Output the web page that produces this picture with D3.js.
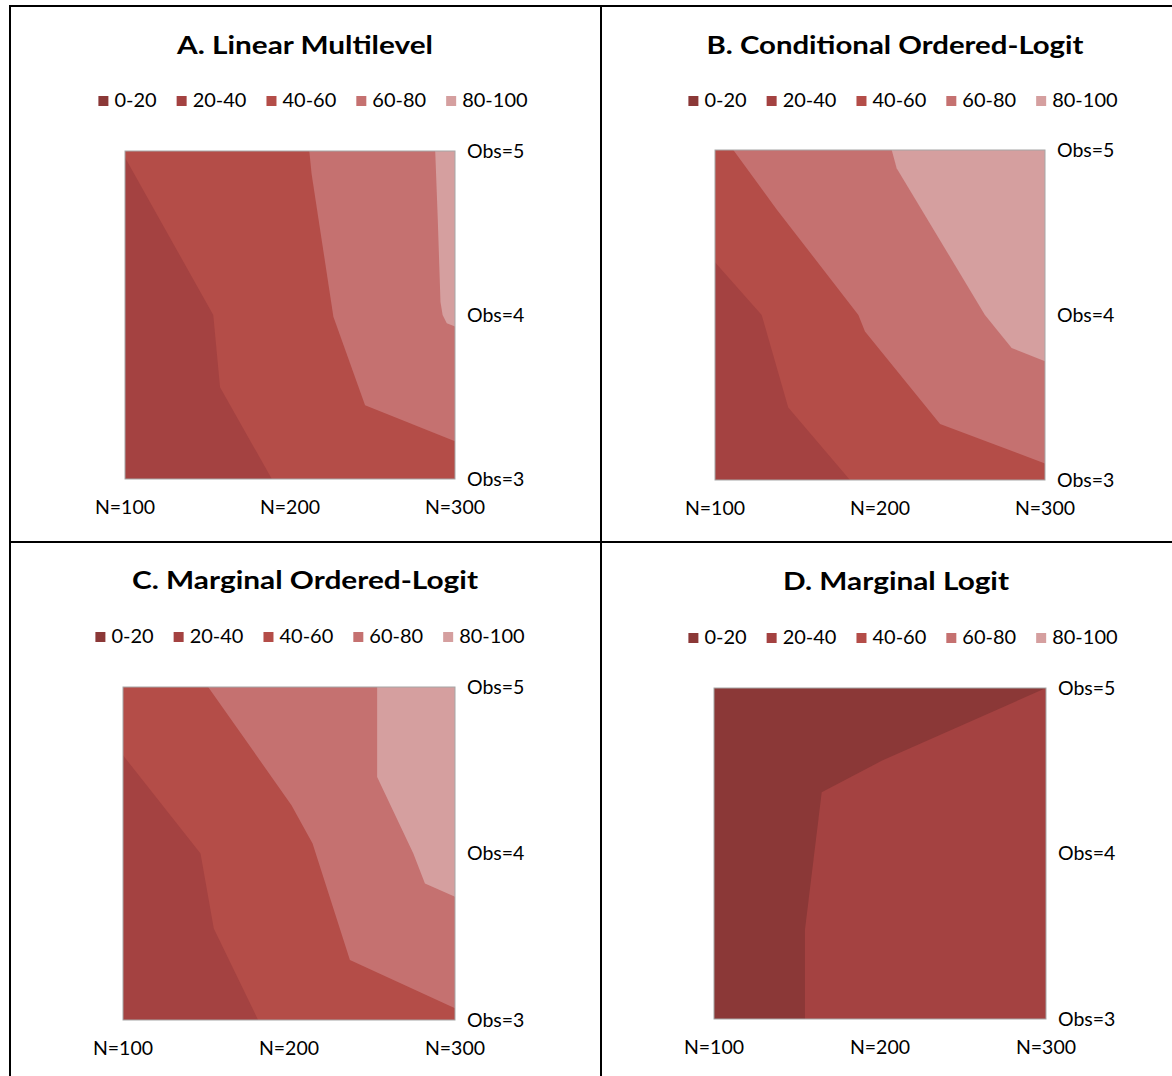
<!DOCTYPE html>
<html>
<head>
<meta charset="utf-8">
<script src="https://cdnjs.cloudflare.com/ajax/libs/d3/7.8.5/d3.min.js"></script>
<style>
  html, body { margin: 0; padding: 0; background: #fff; }
  svg { display: block; font-family: Lato, "Open Sans", sans-serif; }
</style>
</head>
<body>
<svg id="chart" width="1172" height="1076"></svg>
<script>
// Contour bands (percent) and their fills
const bands = ["0-20", "20-40", "40-60", "60-80", "80-100"];
const bandColors = ["#8b3837", "#a44241", "#b44d48", "#c57170", "#d59f9f"];

// Axis ticks
const nTicks = [100, 200, 300];
const nLabels = ["N=100", "N=200", "N=300"];
const obsTicks = [3, 4, 5];
const obsLabels = ["Obs=3", "Obs=4", "Obs=5"];

const titles = ["A. Linear Multilevel", "B. Conditional Ordered-Logit",
                "C. Marginal Ordered-Logit", "D. Marginal Logit"];

// Lowest band filling each panel
const baseBands = [1, 1, 1, 0];

// Band boundaries as [N, Obs] vertices; the band named by "above" lies to the
// right of the direction of travel.
const linearMultilevel = [
  { above: 2, line: [[189, 3], [157.6, 3.56], [153.5, 4.0], [100, 4.96]] },
  { above: 3, line: [[300, 3.23], [245.5, 3.45], [226.3, 3.99], [213.1, 4.86], [211.7, 5]] },
  { above: 4, line: [[300, 3.93], [295, 3.95], [292.5, 4.0], [291.2, 4.08], [289.5, 4.6], [288, 5]] }
];
const conditionalOrderedLogit = [
  { above: 2, line: [[181.8, 3], [144.4, 3.44], [128.3, 4.0], [100, 4.32]] },
  { above: 3, line: [[300, 3.10], [236.4, 3.34], [190.9, 3.90], [186.9, 4.0], [137.4, 4.64], [111.1, 5]] },
  { above: 4, line: [[300, 3.72], [279.8, 3.80], [263.6, 4.0], [210.1, 4.89], [207.1, 5]] }
];
const marginalOrderedLogit = [
  { above: 2, line: [[181.4, 3], [154.7, 3.55], [146.7, 4.0], [100, 4.59]] },
  { above: 3, line: [[300, 3.07], [236.7, 3.36], [214.2, 4.06], [201.5, 4.29], [151.3, 5]] },
  { above: 4, line: [[300, 3.74], [281.9, 3.82], [274.9, 4.0], [253.1, 4.46], [253.1, 5]] }
];
const marginalLogit = [
  { above: 1, line: [[154.8, 3], [154.8, 3.54], [164.9, 4.37], [201, 4.56], [300, 5]] }
];
const panelBoundaries = [linearMultilevel, conditionalOrderedLogit, marginalOrderedLogit, marginalLogit];

// Panel geometry
const layout = [
  { plot: { x0: 125, x1: 455, y0: 151, y1: 479 },  titleX: 305, titleY: 48,  titleW: 256, legendY: 101, legendCx: 313 },
  { plot: { x0: 715, x1: 1045, y0: 150, y1: 480 }, titleX: 895, titleY: 48,  titleW: 377, legendY: 101, legendCx: 903 },
  { plot: { x0: 123, x1: 455, y0: 687, y1: 1020 }, titleX: 305, titleY: 583, titleW: 346, legendY: 637, legendCx: 310 },
  { plot: { x0: 714, x1: 1046, y0: 688, y1: 1019 },titleX: 896, titleY: 584, titleW: 226, legendY: 638, legendCx: 903 }
];

const svg = d3.select("#chart");

const nExtent = d3.extent(nTicks), obsExtent = d3.extent(obsTicks);
const [nMin, nMax] = nExtent, [oMin, oMax] = obsExtent;

// Position of an edge point along the plot perimeter, clockwise from top-left
function perimeterT([n, o]) {
  const eps = 1e-6;
  if (Math.abs(o - oMax) < eps) return (n - nMin) / (nMax - nMin);
  if (Math.abs(n - nMax) < eps) return 1 + (oMax - o) / (oMax - oMin);
  if (Math.abs(o - oMin) < eps) return 2 + (nMax - n) / (nMax - nMin);
  return 3 + (o - oMin) / (oMax - oMin);
}
const corners = [[nMin, oMax], [nMax, oMax], [nMax, oMin], [nMin, oMin]];

// Close a boundary into the region on its right by walking the frame clockwise
function regionPolygon(line) {
  const start = line[0], end = line[line.length - 1];
  const tEnd = perimeterT(end);
  let tStart = perimeterT(start);
  if (tStart <= tEnd) tStart += 4;
  const pts = line.slice();
  for (let k = Math.floor(tEnd) + 1; k < tStart; k++) pts.push(corners[k % 4]);
  return pts;
}

// Frame rules
const frame = svg.append("g").attr("stroke", "#000").attr("stroke-width", 2);
frame.append("line").attr("x1", 10).attr("x2", 1172).attr("y1", 6).attr("y2", 6);
frame.append("line").attr("x1", 10).attr("x2", 10).attr("y1", 5).attr("y2", 1076);
frame.append("line").attr("x1", 601).attr("x2", 601).attr("y1", 5).attr("y2", 1076);
frame.append("line").attr("x1", 10).attr("x2", 1172).attr("y1", 542).attr("y2", 542);

layout.forEach((L, i) => {
  const g = svg.append("g");
  const x = d3.scaleLinear().domain(nExtent).range([L.plot.x0, L.plot.x1]);
  const y = d3.scaleLinear().domain(obsExtent).range([L.plot.y1, L.plot.y0]);

  // Title
  g.append("text")
    .attr("x", L.titleX).attr("y", L.titleY)
    .attr("text-anchor", "middle").attr("dominant-baseline", "middle")
    .attr("font-size", 25).attr("font-weight", 700).attr("fill", "#000")
    .attr("textLength", L.titleW).attr("lengthAdjust", "spacingAndGlyphs")
    .text(titles[i]);

  // Legend, laid out from measured label widths
  const leg = g.append("g");
  const items = leg.selectAll("g").data(bands).join("g");
  items.append("rect").attr("width", 10).attr("height", 10)
    .attr("y", L.legendY - 5).attr("fill", (d, j) => bandColors[j]);
  items.append("text").attr("x", 16).attr("y", L.legendY + 1)
    .attr("dominant-baseline", "middle").attr("font-size", 20).attr("fill", "#000")
    .text(d => d);
  let cursor = 0;
  const offsets = [];
  items.each(function () {
    offsets.push(cursor);
    const w = d3.select(this).select("text").node().getComputedTextLength();
    cursor += 16 + w + 20;
  });
  const total = cursor - 20;
  const left = L.legendCx - total / 2;
  items.attr("transform", (d, j) => `translate(${left + offsets[j]},0)`);

  // Contour fills
  const path = d3.line().x(d => x(d[0])).y(d => y(d[1]));
  g.append("rect")
    .attr("x", x(nMin)).attr("y", y(oMax))
    .attr("width", x(nMax) - x(nMin)).attr("height", y(oMin) - y(oMax))
    .attr("fill", bandColors[baseBands[i]]);
  g.selectAll("path.band").data(panelBoundaries[i]).join("path")
    .attr("class", "band")
    .attr("d", d => path(regionPolygon(d.line)) + "Z")
    .attr("fill", d => bandColors[d.above]);
  g.append("rect")
    .attr("x", x(nMin)).attr("y", y(oMax))
    .attr("width", x(nMax) - x(nMin)).attr("height", y(oMin) - y(oMax))
    .attr("fill", "none").attr("stroke", "#a6a6a6").attr("stroke-width", 1);

  // N labels below the plot
  g.selectAll("text.nlab").data(nTicks).join("text")
    .attr("class", "nlab")
    .attr("x", d => x(d)).attr("y", L.plot.y1 + 30)
    .attr("text-anchor", "middle").attr("dominant-baseline", "middle")
    .attr("font-size", 19.5).attr("fill", "#000")
    .text((d, j) => nLabels[j]);

  // Obs labels on the right
  g.selectAll("text.olab").data(obsTicks).join("text")
    .attr("class", "olab")
    .attr("x", L.plot.x1 + 12).attr("y", d => y(d) + 2)
    .attr("dominant-baseline", "middle")
    .attr("font-size", 19.5).attr("fill", "#000")
    .text((d, j) => obsLabels[j]);
});
</script>
</body>
</html>
